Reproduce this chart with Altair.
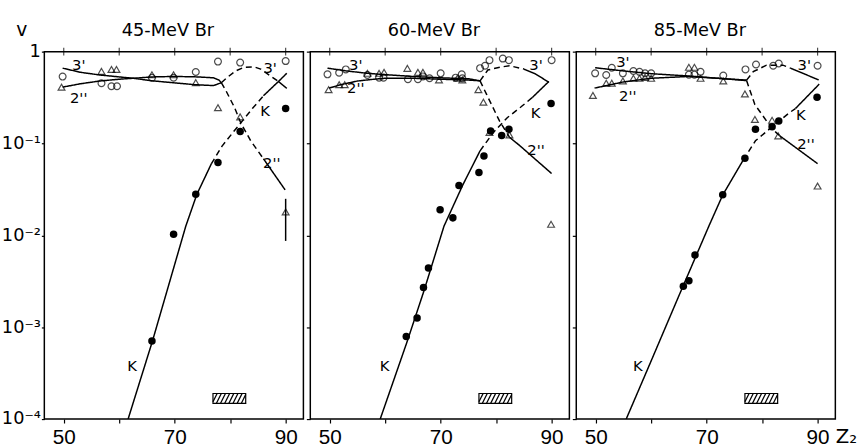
import altair as alt
import pandas as pd
import numpy as np

FONT = "DejaVu Sans"
NUM_FONT = "Liberation Sans"
TITLES = ["45-MeV Br", "60-MeV Br", "85-MeV Br"]
X_DOMAIN = [46.5, 93.2]
Y_DOMAIN = [1e-4, 1]
X_TICKS = [50, 60, 70, 80, 90]
Y_TICKS = [1, 0.1, 0.01, 0.001, 0.0001]

# ---------------- panel 1 : 45-MeV Br ----------------
P1_OPEN_Z = [49.8, 56.8, 58.6, 59.6, 65.9, 69.8, 73.8, 77.8, 81.8, 90.0]
P1_OPEN_V = [0.535, 0.454, 0.42, 0.42, 0.52, 0.52, 0.60, 0.78, 0.76, 0.79]
P1_TRI_Z = [49.6, 56.8, 58.6, 59.5, 65.9, 69.8, 73.8, 77.8, 81.8, 90.0]
P1_TRI_V = [0.41, 0.61, 0.64, 0.64, 0.56, 0.56, 0.46, 0.245, 0.195, 0.018]
P1_FILL_Z = [65.9, 69.8, 73.8, 77.8, 81.8, 90.0]
P1_FILL_V = [7.1e-4, 0.0103, 0.028, 0.062, 0.135, 0.24]

P1_K_Z = [61.6, 66.0, 72.0, 74.0, 76.6, 78.5, 80.5, 82.0, 84.0, 86.0, 88.7, 90.2]
P1_K_V = [1.0e-4, 7.1e-4, 0.0126, 0.028, 0.060, 0.093, 0.132, 0.170, 0.240, 0.331, 0.473, 0.581]
P1_K_S = "ssssdddddss"
P1_3_Z = [49.8, 53.0, 56.5, 60.0, 62.5, 66.0, 70.0, 73.6, 77.0, 78.4, 79.5, 81.0, 82.5, 84.3, 85.5, 88.7, 90.2]
P1_3_V = [0.661, 0.596, 0.557, 0.531, 0.513, 0.481, 0.457, 0.437, 0.427, 0.459, 0.525, 0.617, 0.676, 0.684, 0.646, 0.473, 0.398]
P1_3_S = "sssssssssddddddss"[:16]
P1_2_Z = [49.8, 53.0, 56.5, 60.0, 62.5, 66.0, 70.0, 74.0, 77.0, 78.0, 78.4, 79.2, 80.8, 81.9, 83.7, 86.0, 89.9]
P1_2_V = [0.411, 0.447, 0.479, 0.501, 0.513, 0.531, 0.537, 0.531, 0.519, 0.490, 0.459, 0.380, 0.245, 0.168, 0.107, 0.0682, 0.0313]
P1_2_S = "ssssssssssddddds"
P1_LAB_T = ["3'", "2''", "3'", "K", "2''", "K"]
P1_LAB_Z = [52.7, 52.7, 87.2, 86.3, 87.5, 62.3]
P1_LAB_V = [0.713, 0.313, 0.661, 0.225, 0.0617, 3.8e-4]
P1_ARROW_Z = [90.0]
P1_ARROW_V = [0.025, 0.0087]

# ---------------- panel 2 : 60-MeV Br ----------------
P2_OPEN_Z = [49.6, 51.7, 52.9, 56.8, 58.9, 59.7, 64.1, 65.9, 66.8, 68.0, 70.0, 72.7, 73.8, 73.9, 77.1, 78.0, 78.8, 81.2, 82.3, 90.0]
P2_OPEN_V = [0.566, 0.590, 0.641, 0.557, 0.521, 0.521, 0.501, 0.501, 0.537, 0.513, 0.581, 0.521, 0.566, 0.513, 0.661, 0.702, 0.807, 0.841, 0.807, 0.807]
P2_TRI_Z = [49.8, 51.7, 52.7, 56.8, 58.9, 59.8, 64.0, 65.9, 66.8, 69.7, 73.0, 73.9, 76.8, 77.7, 78.8, 82.4, 89.9]
P2_TRI_V = [0.385, 0.437, 0.437, 0.581, 0.581, 0.596, 0.658, 0.596, 0.596, 0.492, 0.513, 0.492, 0.385, 0.282, 0.132, 0.124, 0.0132]
P2_FILL_Z = [63.8, 65.75, 66.9, 67.8, 69.9, 72.2, 73.3, 76.9, 77.8, 79.0, 81.0, 82.3, 89.9]
P2_FILL_V = [7.9e-4, 1.26e-3, 2.7e-3, 4.4e-3, 0.019, 0.0155, 0.0348, 0.0483, 0.073, 0.137, 0.122, 0.143, 0.272]

P2_K_Z = [59.1, 64.0, 67.0, 70.6, 74.0, 77.1, 79.5, 82.0, 84.5, 86.5, 89.5]
P2_K_V = [1.0e-4, 7.1e-4, 2.5e-3, 0.0126, 0.0355, 0.0832, 0.132, 0.191, 0.251, 0.316, 0.473]
P2_K_S = "sssssdddds"
P2_3_Z = [49.6, 53.0, 56.8, 60.0, 65.0, 70.0, 75.0, 77.1, 78.5, 80.8, 82.4, 84.5, 85.0, 87.0, 89.5]
P2_3_V = [0.661, 0.617, 0.581, 0.562, 0.537, 0.519, 0.507, 0.481, 0.631, 0.679, 0.702, 0.658, 0.646, 0.575, 0.465]
P2_3_S = "sssssssddddds" + "s"
P2_2_Z = [49.9, 52.0, 55.0, 58.0, 60.0, 65.0, 70.0, 75.0, 77.1, 78.3, 80.6, 82.4, 84.2, 90.0]
P2_2_V = [0.401, 0.437, 0.479, 0.501, 0.513, 0.513, 0.501, 0.490, 0.481, 0.340, 0.176, 0.117, 0.0955, 0.0471]
P2_2_S = "ssssssssddd" + "ss"
P2_LAB_T = ["3'", "2''", "3'", "K", "2''", "K"]
P2_LAB_Z = [54.7, 54.7, 87.2, 87.1, 87.2, 59.9]
P2_LAB_V = [0.713, 0.401, 0.713, 0.216, 0.0839, 3.8e-4]

# ---------------- panel 3 : 85-MeV Br ----------------
P3_OPEN_Z = [49.9, 51.9, 52.9, 54.9, 56.8, 57.9, 58.9, 60.0, 66.8, 67.8, 68.9, 73.0, 77.0, 78.9, 82.0, 83.0, 90.0]
P3_OPEN_V = [0.581, 0.557, 0.668, 0.581, 0.615, 0.603, 0.581, 0.581, 0.562, 0.562, 0.603, 0.550, 0.641, 0.724, 0.702, 0.743, 0.702]
P3_TRI_Z = [49.5, 51.9, 52.9, 54.9, 56.8, 57.9, 58.9, 60.0, 66.8, 67.8, 68.9, 73.0, 76.9, 78.7, 81.8, 82.9, 90.0]
P3_TRI_V = [0.334, 0.454, 0.454, 0.479, 0.513, 0.513, 0.525, 0.513, 0.676, 0.676, 0.513, 0.479, 0.346, 0.183, 0.179, 0.121, 0.0344]
P3_FILL_Z = [65.8, 66.8, 67.9, 72.9, 76.9, 78.8, 81.8, 83.0, 89.9]
P3_FILL_V = [2.8e-3, 3.2e-3, 6.1e-3, 0.0276, 0.0693, 0.143, 0.152, 0.176, 0.318]

P3_K_Z = [55.5, 60.0, 65.0, 70.4, 72.9, 76.6, 78.8, 81.4, 84.9, 86.0, 90.3]
P3_K_V = [1.0e-4, 4.3e-4, 2.2e-3, 0.0126, 0.0275, 0.0661, 0.107, 0.145, 0.216, 0.240, 0.443]
P3_K_S = "sssssdddds"
P3_3_Z = [49.9, 55.0, 60.0, 66.8, 72.0, 77.2, 78.4, 80.8, 83.75, 85.2, 90.2]
P3_3_V = [0.668, 0.617, 0.575, 0.543, 0.513, 0.490, 0.605, 0.713, 0.713, 0.658, 0.492]
P3_3_S = "sssssdddds"
P3_2_Z = [49.8, 55.0, 60.0, 66.8, 72.0, 77.2, 78.7, 80.8, 82.5, 83.2, 90.0]
P3_2_V = [0.401, 0.468, 0.513, 0.537, 0.513, 0.484, 0.265, 0.176, 0.132, 0.121, 0.0603]
P3_2_S = "sssssdddds"
P3_LAB_T = ["3'", "2''", "3'", "K", "2''", "K"]
P3_LAB_Z = [54.9, 55.8, 87.6, 87.0, 87.9, 57.6]
P3_LAB_V = [0.776, 0.327, 0.713, 0.204, 0.0989, 3.8e-4]

# hatched box (same in each panel)
HATCH_Z = [76.9, 82.8]
HATCH_V = [1.48e-4, 1.9e-4]

PANEL_W = 263
PANEL_H = 373


def curve_rows(zs, vs, styles, name):
    rows = []
    seg = -1
    prev = None
    for i in range(len(zs) - 1):
        st = "solid" if styles[i] == "s" else "dashed"
        if st != prev:
            seg += 1
            rows.append(dict(z=zs[i], v=vs[i], style=st, seg=f"{name}{seg}", o=i))
            prev = st
        rows.append(dict(z=zs[i + 1], v=vs[i + 1], style=st, seg=f"{name}{seg}", o=i + 1))
    return rows


def hatch_rows():
    z0, z1 = HATCH_Z
    l0, l1 = np.log10(HATCH_V[0]), np.log10(HATCH_V[1])
    slant = 0.9
    step = 0.75
    rows = []
    b = z0 - slant + step
    while b < z1:
        za, la, zb, lb = b, l0, b + slant, l1
        if za < z0:
            la = l0 + (z0 - za) / slant * (l1 - l0)
            za = z0
        if zb > z1:
            lb = l0 + (z1 - b) / slant * (l1 - l0)
            zb = z1
        rows.append(dict(z=za, v=10 ** la, z2=zb, v2=10 ** lb))
        b += step
    return pd.DataFrame(rows)


def encs(idx):
    xscale = alt.Scale(domain=X_DOMAIN, nice=False, zero=False)
    yscale = alt.Scale(type="log", domain=Y_DOMAIN, nice=False)
    common_x = dict(values=X_TICKS, labelExpr="datum.value % 20 == 10 ? datum.label : ''",
                    grid=False, domain=False, tickSize=4, labelFont=NUM_FONT, labelFontSize=21, labelPadding=4)
    if idx == 2:
        xaxis = alt.Axis(title="Z\u2082", titleAngle=0, titleX=263, titleY=24, titleAlign="left",
                         titleBaseline="alphabetic", titleFontSize=20, titleFontWeight="normal", **common_x)
    else:
        xaxis = alt.Axis(title=None, **common_x)
    if idx == 0:
        yaxis = alt.Axis(values=Y_TICKS,
                         labelExpr="datum.value >= 1 ? '1' : '10\u207b' + ['', '\u00b9', '\u00b2', '\u00b3', '\u2074'][round(-log(datum.value) / LN10)]",
                         title=None, grid=False, domain=False, tickSize=3, labelFontSize=18, labelPadding=1)
    else:
        yaxis = alt.Axis(values=Y_TICKS, labels=False, title=None, grid=False, domain=False, tickSize=4)
    return xscale, yscale, xaxis, yaxis


def panel(idx, open_z, open_v, tri_z, tri_v, fill_z, fill_v, curves, lab_t, lab_z, lab_v, arrow=None):
    xscale, yscale, xaxis, yaxis = encs(idx)
    X = alt.X("z:Q", scale=xscale, axis=xaxis)
    Y = alt.Y("v:Q", scale=yscale, axis=yaxis)

    rows = []
    for (zs, vs, ss, nm) in curves:
        rows += curve_rows(zs, vs, ss, nm)
    cdf = pd.DataFrame(rows)
    lines = alt.Chart(cdf).mark_line(color="black", strokeWidth=1.5, clip=True).encode(
        x=X, y=Y, detail="seg:N", order="o:Q",
        strokeDash=alt.StrokeDash("style:N", scale=alt.Scale(domain=["solid", "dashed"], range=[[1, 0], [6, 4]]), legend=None),
    )
    opn = alt.Chart(pd.DataFrame(dict(z=open_z, v=open_v))).mark_point(
        shape="circle", filled=False, size=48, color="black", strokeWidth=1.2).encode(x=X, y=Y)
    tri = alt.Chart(pd.DataFrame(dict(z=tri_z, v=tri_v))).mark_point(
        shape="triangle-up", filled=False, size=48, color="black", strokeWidth=1.2).encode(x=X, y=Y)
    fil = alt.Chart(pd.DataFrame(dict(z=fill_z, v=fill_v))).mark_circle(
        size=58, color="black", opacity=1).encode(x=X, y=Y)
    txt = alt.Chart(pd.DataFrame(dict(t=lab_t, z=lab_z, v=lab_v))).mark_text(
        font=FONT, fontSize=15, color="black").encode(x=X, y=Y, text="t:N")
    box = alt.Chart(pd.DataFrame(dict(z=[HATCH_Z[0]], z2=[HATCH_Z[1]], v=[HATCH_V[0]], v2=[HATCH_V[1]]))).mark_rect(
        fill="white", fillOpacity=0, stroke="black", strokeWidth=1.2).encode(x=X, x2="z2:Q", y=Y, y2="v2:Q")
    hat = alt.Chart(hatch_rows()).mark_rule(color="black", strokeWidth=1.3).encode(
        x=X, x2="z2:Q", y=Y, y2="v2:Q")
    # inward ticks along the top frame
    topt = alt.Chart(pd.DataFrame(dict(z=X_TICKS))).mark_tick(
        color="black", size=8, thickness=1.2, orient="vertical").encode(x=X, y=alt.value(0))
    # panel heading, drawn as text just above the frame
    head = alt.Chart(pd.DataFrame(dict(t=[TITLES[idx]]))).mark_text(
        font=FONT, fontSize=18, color="black", align="center", baseline="alphabetic").encode(
        text="t:N", x=alt.value(PANEL_W / 2 - 6), y=alt.value(-16))
    layers = [lines, box, hat, topt, opn, tri, fil, txt, head]
    if idx == 0:
        vlab = alt.Chart(pd.DataFrame(dict(t=["v"]))).mark_text(
            font=FONT, fontSize=19, color="black", align="center", baseline="alphabetic").encode(
            text="t:N", x=alt.value(-23), y=alt.value(-16))
        layers.append(vlab)
    if arrow is not None:
        az, av = arrow
        arr = alt.Chart(pd.DataFrame(dict(z=az, v=[av[0]], v2=[av[1]]))).mark_rule(
            color="black", strokeWidth=1.5).encode(x=X, y=Y, y2="v2:Q")
        layers.append(arr)
    return alt.layer(*layers).properties(width=PANEL_W, height=PANEL_H)


p1 = panel(0, P1_OPEN_Z, P1_OPEN_V, P1_TRI_Z, P1_TRI_V, P1_FILL_Z, P1_FILL_V,
           [(P1_K_Z, P1_K_V, P1_K_S, "K"), (P1_3_Z, P1_3_V, P1_3_S, "T"), (P1_2_Z, P1_2_V, P1_2_S, "D")],
           P1_LAB_T, P1_LAB_Z, P1_LAB_V, arrow=(P1_ARROW_Z, P1_ARROW_V))
p2 = panel(1, P2_OPEN_Z, P2_OPEN_V, P2_TRI_Z, P2_TRI_V, P2_FILL_Z, P2_FILL_V,
           [(P2_K_Z, P2_K_V, P2_K_S, "K"), (P2_3_Z, P2_3_V, P2_3_S, "T"), (P2_2_Z, P2_2_V, P2_2_S, "D")],
           P2_LAB_T, P2_LAB_Z, P2_LAB_V)
p3 = panel(2, P3_OPEN_Z, P3_OPEN_V, P3_TRI_Z, P3_TRI_V, P3_FILL_Z, P3_FILL_V,
           [(P3_K_Z, P3_K_V, P3_K_S, "K"), (P3_3_Z, P3_3_V, P3_3_S, "T"), (P3_2_Z, P3_2_V, P3_2_S, "D")],
           P3_LAB_T, P3_LAB_Z, P3_LAB_V)

chart = alt.hconcat(p1, p2, p3, spacing=0).properties(
    padding={"left": 0, "top": 17, "right": 0, "bottom": 0},
    background="white",
).configure_view(
    stroke="black", strokeWidth=1.5
).configure_axis(
    labelFont=FONT, titleFont=FONT, labelColor="black", titleColor="black", tickColor="black", tickWidth=1.2
)

chart.save("out.html", embed_options={"renderer": "svg", "actions": False})
